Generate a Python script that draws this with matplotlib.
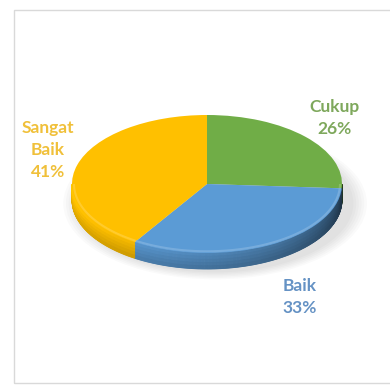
import matplotlib as mpl
mpl.use('Agg')

import numpy as np
import matplotlib.pyplot as plt
from matplotlib.patches import Rectangle, Ellipse
from matplotlib.colors import to_rgb

labels = ['Cukup', 'Baik', 'Sangat\nBaik']
values = [26, 33, 41]
colors = ['#70AD47', '#5B9BD5', '#FFC000']
label_colors = ['#7EA85C', '#6592C4', '#F0C03A']

# pixel geometry of the pie (from the reference picture)
W, H = 390, 387
CX, CY = 207, 184          # centre of the top face
RX, RY = 135, 69           # semi axes of the top face
DEPTH = 16                 # side wall height


def shade(col, t):
    r, g, b = to_rgb(col)
    f = 0.97 - 0.25 * t - 0.40 * t ** 3
    return (min(r * f, 1), min(g * f, 1), min(b * f, 1))


def main():
    fig = plt.figure(figsize=(W / 100, H / 100), dpi=100)
    ax = fig.add_axes([0, 0, 1, 1])

    # top face through pie, then squashed with the axis limits
    wedges, _ = ax.pie(values, colors=colors, startangle=90, counterclock=False,
                       radius=1, wedgeprops=dict(linewidth=0, antialiased=True, zorder=3))
    ax.set_aspect('auto')
    ax.set_xlim(-CX / RX, (W - CX) / RX)
    ax.set_ylim((CY - H) / RY, CY / RY)
    ax.axis('off')

    d = DEPTH / RY

    # soft shadow below
    for k in range(6):
        ax.add_patch(Ellipse((0.06, -d - 0.05), 2.05 + 0.04 * k, 2.0 + 0.04 * k,
                             facecolor='#000000', alpha=0.018, lw=0, zorder=0))

    # side wall: front half only (angles between -180 and 0 degrees)
    fracs = np.array(values) / np.sum(values)
    ends = 90 - 360 * np.cumsum(fracs)
    starts = np.concatenate([[90], ends[:-1]])
    layers = 5
    for s, e, col in zip(starts, ends, colors):
        lo, hi = max(e, -180), min(s, 0)
        if lo >= hi:
            continue
        angs = np.linspace(lo, hi, int((hi - lo) * 2) + 2)
        for a0, a1 in zip(angs[:-1], angs[1:]):
            t = (0.5 * (a0 + a1) + 180) / 180
            base = shade(col, t)
            for j in range(layers):
                z0, z1 = d * j / layers, d * (j + 1) / layers
                m = 1.08 - 0.16 * j / (layers - 1)
                c = tuple(min(v * m, 1) for v in base)
                th = np.radians([a0, a1, a1, a0])
                xs = np.cos(th)
                ys = np.sin(th) - np.array([z0, z0, z1, z1])
                ax.fill(xs, ys, color=c, lw=0.6, ec=c, zorder=2)

    # subtle bevel highlight on the front rim of the top face
    for s, e, col in zip(starts, ends, colors):
        lo, hi = max(e, -180), min(s, 0)
        if lo >= hi:
            continue
        th = np.radians(np.linspace(lo, hi, 100))
        r, g, b = to_rgb(col)
        light = (r + (1 - r) * 0.25, g + (1 - g) * 0.25, b + (1 - b) * 0.25)
        ax.plot(np.cos(th) * 0.985, np.sin(th) * 0.975, color=light, lw=1.5,
                alpha=0.7, zorder=4, solid_capstyle='butt')

    # chart frame
    fig.patches.append(Rectangle((14 / W, 1 - 383 / H), 1.0, (383 - 10) / H,
                                 transform=fig.transFigure, fill=False,
                                 ec='#D9D9D9', lw=1.0))

    # data labels
    pos = [(335, 118), (300, 297), (48, 150)]
    for lab, v, c, (px, py) in zip(labels, values, label_colors, pos):
        fig.text(px / W, 1 - py / H, '%s\n%d%%' % (lab, v), color=c,
                 ha='center', va='center', ma='center', fontsize=12.5,
                 family='Lato', weight='bold', linespacing=1.45)

    fig.savefig('out.png', dpi=100, facecolor='white')


if __name__ == '__main__':
    main()
